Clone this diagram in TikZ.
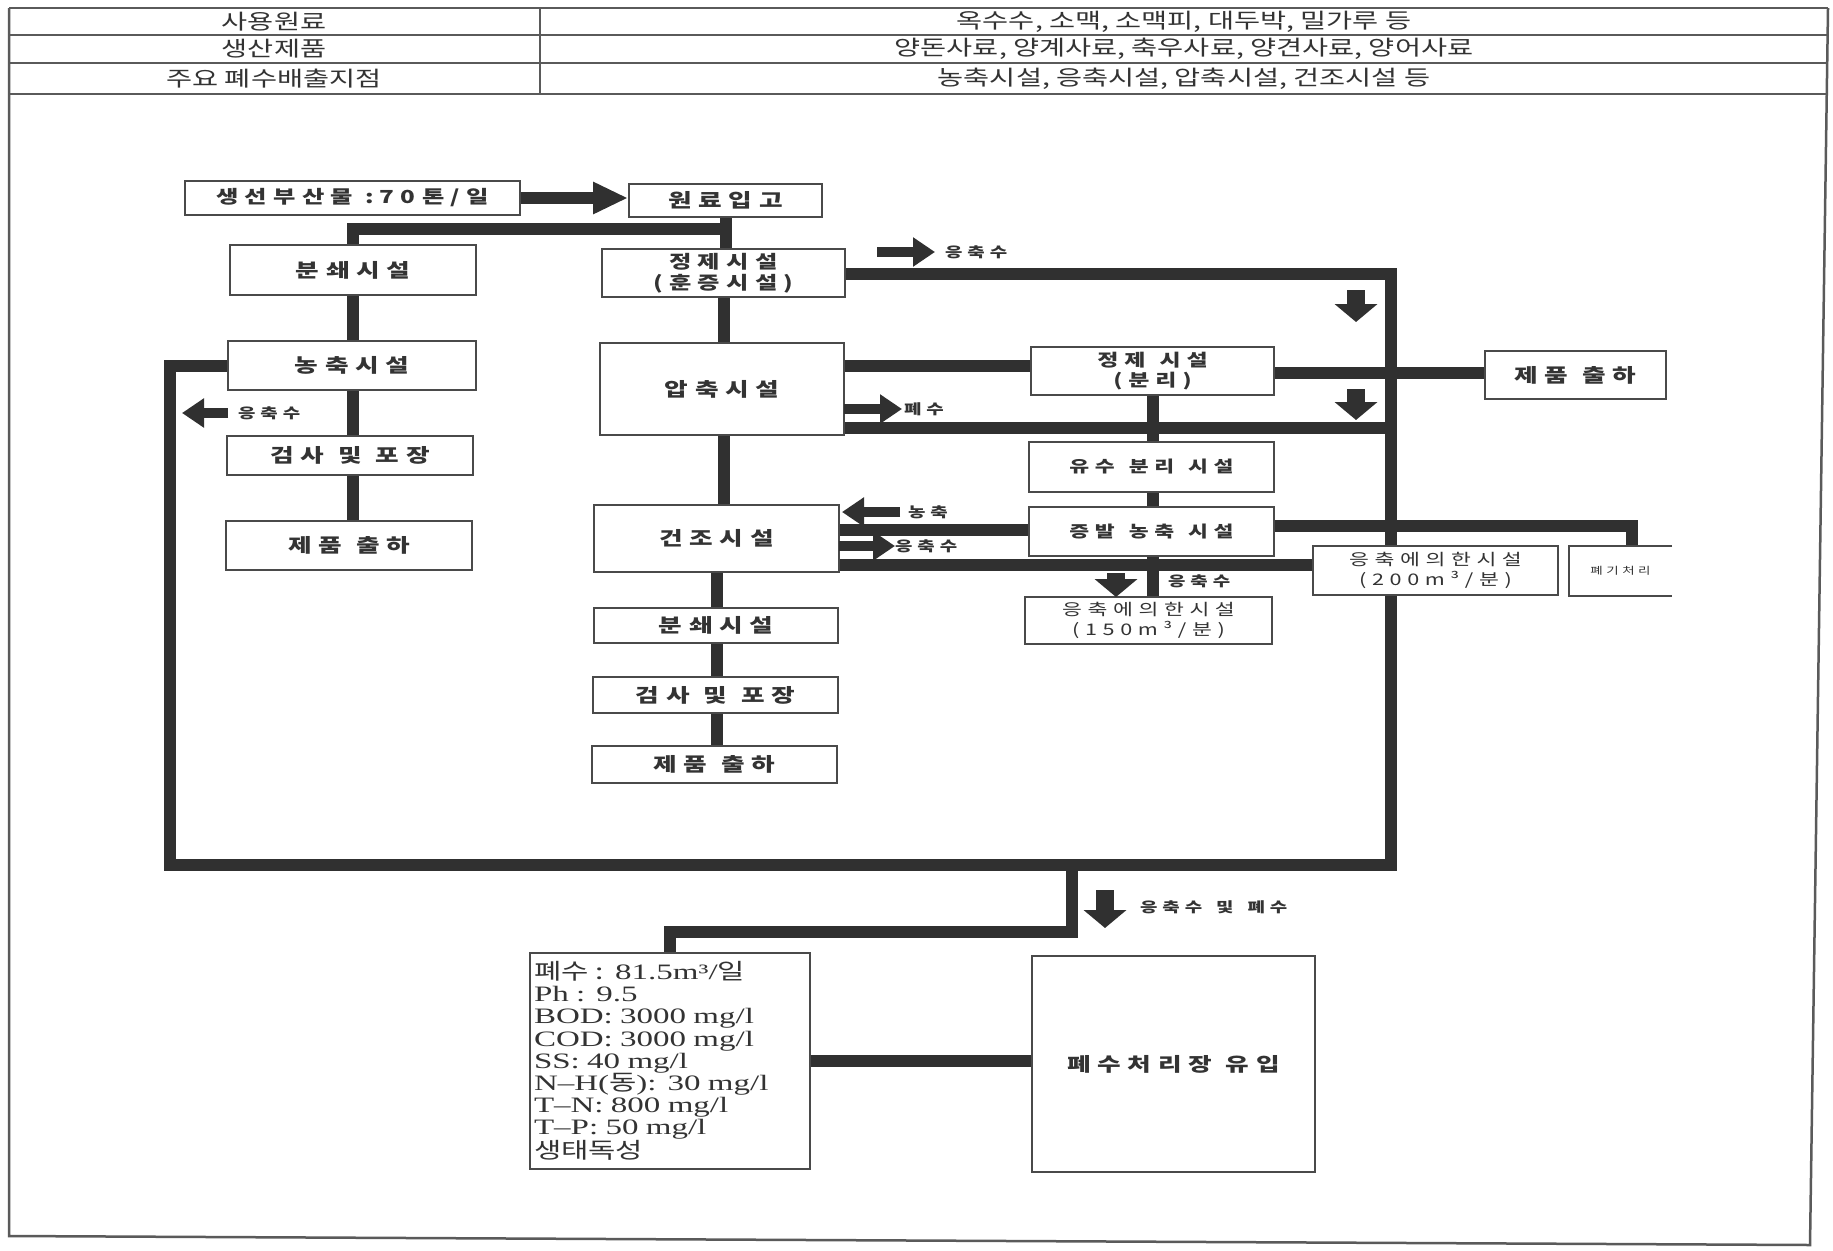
\documentclass[tikz,border=0pt]{standalone}
\usepackage{fontspec}
\setmainfont[FakeStretch=1.35]{Noto Sans CJK KR}
\newfontfamily\krs[FakeStretch=1.35,LetterSpace=35]{Noto Sans CJK KR}
\newfontfamily\lat[FakeStretch=1.5]{Liberation Serif}
\usetikzlibrary{arrows.meta,calc}
\pgfdeclarelayer{bg}
\pgfsetlayers{bg,main}
\definecolor{pipec}{HTML}{303030}
\definecolor{boxc}{HTML}{4A4A4A}
\definecolor{txt}{HTML}{333333}
\definecolor{framec}{HTML}{5A5A5A}
\newcommand{\gap}{\hspace{14pt}}
\begin{document}
\begin{tikzpicture}[x=1pt,y=-1pt,
  box/.style={draw=boxc, line width=2pt, fill=white, inner sep=0pt, text=txt, align=center,
    font=\krs\bfseries\fontsize{19}{23}\selectfont},
  pipe/.style={draw=pipec, line width=12pt},
  stubh/.style={draw=pipec, line width=10pt, -{Triangle[length=22pt,width=28pt]}},
  stubv/.style={draw=pipec, line width=18pt, -{Triangle[length=18pt,width=42pt]}},
  lbl/.style={font=\krs\bfseries\fontsize{14}{16}\selectfont, text=txt, anchor=west, inner sep=0pt},
  tt/.style={font=\fontsize{21}{23}\selectfont, text=txt, inner sep=0pt},
  frame/.style={draw=framec, line width=2.5pt},
]
\useasboundingbox (0,0) rectangle (1833,1250);
\begin{pgfonlayer}{bg}
\fill[white] (0,0) rectangle (1833,1250);
\end{pgfonlayer}

% ---------- table and frame ----------
\draw[frame] (9,8) -- (1828,8);
\draw[frame] (9,35) -- (1828,35);
\draw[frame] (9,63) -- (1828,63);
\draw[frame] (9,94) -- (1828,94);
\draw[frame] (540,8) -- (540,94);
\draw[frame] (9,8) -- (9,1236) -- (1810,1245) -- (1828,8);
\node[tt] (t1a) at (274,21.5) {사용원료};
\node[tt] (t2a) at (274,49) {생산제품};
\node[tt] (t3a) at (274,78.5) {주요 폐수배출지점};
\node[tt] (t1b) at (1184,21.5) {옥수수, 소맥, 소맥피, 대두박, 밀가루 등};
\node[tt] (t2b) at (1184,49) {양돈사료, 양계사료, 축우사료, 양견사료, 양어사료};
\node[tt] (t3b) at (1184,78.5) {농축시설, 응축시설, 압축시설, 건조시설 등};

% ---------- boxes ----------
\node[box,minimum width=335pt,minimum height=34pt,font=\krs\bfseries\fontsize{18}{22}\selectfont] (raw) at (352.5,198) {생선부산물 :70톤/일};
\node[box,minimum width=193pt,minimum height=33pt] (inb) at (725.5,200.5) {원료입고};
\node[box,minimum width=246pt,minimum height=50pt] (crushL) at (353,270) {분쇄시설};
\node[box,minimum width=243pt,minimum height=48pt,font=\krs\bfseries\fontsize{18}{21}\selectfont] (pur1) at (723.5,273) {정제시설\\(훈증시설)};
\node[box,minimum width=248pt,minimum height=49pt] (concL) at (352,365.5) {농축시설};
\node[box,minimum width=244pt,minimum height=92pt] (press) at (722,389) {압축시설};
\node[box,minimum width=243pt,minimum height=48pt,font=\krs\bfseries\fontsize{17}{20}\selectfont] (pur2) at (1152.5,371) {정제\gap 시설\\(분리)};
\node[box,minimum width=181pt,minimum height=48pt] (shipR) at (1575.5,375) {제품\gap 출하};
\node[box,minimum width=246pt,minimum height=39pt] (inspL) at (350,455.5) {검사\gap 및\gap 포장};
\node[box,minimum width=245pt,minimum height=50pt,font=\krs\bfseries\fontsize{16}{20}\selectfont] (oil) at (1151.5,467) {유수\gap 분리\gap 시설};
\node[box,minimum width=245pt,minimum height=67pt] (dry) at (716.5,538.5) {건조시설};
\node[box,minimum width=245pt,minimum height=49pt,font=\krs\bfseries\fontsize{16}{20}\selectfont] (evap) at (1151.5,531.5) {증발\gap 농축\gap 시설};
\node[box,minimum width=246pt,minimum height=49pt] (shipL) at (349,545.5) {제품\gap 출하};
\node[box,minimum width=245pt,minimum height=49pt,font=\krs\fontsize{16}{20}\selectfont] (c200) at (1435.5,570.5) {응축에의한시설\\(200m³/분)};
\node[fill=white,minimum width=103pt,minimum height=50pt,inner sep=0pt,text=txt,font=\krs\fontsize{10}{12}\selectfont] (waste) at (1620.5,571) {폐기처리};
\draw[draw=boxc,line width=2pt] (waste.north east) -- (waste.north west) -- (waste.south west) -- (waste.south east);
\node[box,minimum width=247pt,minimum height=47pt,font=\krs\fontsize{16}{20}\selectfont] (c150) at (1148.5,620.5) {응축에의한시설\\(150m³/분)};
\node[box,minimum width=244pt,minimum height=35pt] (crushM) at (716,625.5) {분쇄시설};
\node[box,minimum width=245pt,minimum height=36pt] (inspM) at (715.5,695) {검사\gap 및\gap 포장};
\node[box,minimum width=245pt,minimum height=37pt] (shipM) at (714.5,764.5) {제품\gap 출하};
\node[box,minimum width=280pt,minimum height=216pt,text width=272pt,align=left,
  font=\fontsize{22}{22.2}\selectfont] (info) at (670,1061)
  {폐수 : {\lat 81.5m³/}일\\
   {\lat Ph : 9.5}\\
   {\lat BOD: 3000 mg/l}\\
   {\lat COD: 3000 mg/l}\\
   {\lat SS: 40 mg/l}\\
   {\lat N–H(}동{\lat ): 30 mg/l}\\
   {\lat T–N: 800 mg/l}\\
   {\lat T–P: 50 mg/l}\\
   생태독성};
\node[box,minimum width=283pt,minimum height=216pt] (plant) at (1173.5,1064) {폐수처리장\gap 유입};

% ---------- helper coordinates ----------
\coordinate (j1) at (725,229);
\coordinate (BL) at (170,865);
\coordinate (BR) at (1391,865);
\coordinate (TR) at (1391,274);
\coordinate (y366) at (0,366);
\coordinate (y373) at (0,373);
\coordinate (y428) at (0,428);
\coordinate (y526) at (0,526);
\coordinate (y530) at (0,530);
\coordinate (y565) at (0,565);
\coordinate (xw) at (1632,0);
\coordinate (jb) at (1072,865);
\coordinate (y932) at (0,932);

% ---------- pipes (behind boxes) ----------
\begin{pgfonlayer}{bg}
\draw[pipe] (inb) -- (inb |- pur1);
\draw[pipe] (inb |- j1) -| (crushL);
\draw[pipe] (crushL) -- (crushL |- shipL);
\draw[pipe] (pur1) -- (pur1 |- dry);
\draw[pipe] (dry) -- (dry |- shipM);
\draw[pipe] (concL) -| (BL) -- (BR) -- (TR) -- (pur1 |- TR);
\draw[pipe] (press |- y366) -- (pur2 |- y366);
\draw[pipe] (pur2 |- y373) -- (shipR |- y373);
\draw[pipe] (press |- y428) -- (TR |- y428);
\draw[pipe] (pur2) -- (pur2 |- c150);
\draw[pipe] (dry |- y530) -- (evap |- y530);
\draw[pipe] (dry |- y565) -- (c200 |- y565);
\draw[pipe] (evap |- y526) -| (xw |- waste);
\draw[pipe] (jb) -- (jb |- y932) -| (info);
\draw[pipe] (info) -- (plant |- info);
\end{pgfonlayer}

% main arrow
\draw[draw=pipec,line width=12pt,-{Triangle[length=35pt,width=30pt]}] (raw.east) -- (raw.east -| inb.west);

% ---------- stubs and labels ----------
\coordinate (s1a) at (877,252); \coordinate (s1b) at (935,252);
\draw[stubh] (s1a) -- (s1b);
\node[lbl] (l1) at (945,252) {응축수};
\coordinate (s2a) at (1356,290); \coordinate (s2b) at (1356,322);
\draw[stubv] (s2a) -- (s2b);
\coordinate (s3a) at (1356,389); \coordinate (s3b) at (1356,420);
\draw[stubv] (s3a) -- (s3b);
\coordinate (s4a) at (844,409); \coordinate (s4b) at (902,409);
\draw[stubh] (s4a) -- (s4b);
\node[lbl] (l4) at (904,409) {폐수};
\coordinate (s5a) at (900,512); \coordinate (s5b) at (842,512);
\draw[stubh] (s5a) -- (s5b);
\node[lbl] (l5) at (908,512) {농축};
\coordinate (s6a) at (839,546); \coordinate (s6b) at (895,546);
\draw[stubh] (s6a) -- (s6b);
\node[lbl] (l6) at (895,546) {응축수};
\coordinate (s7a) at (1116,573); \coordinate (s7b) at (1116,597);
\draw[stubv] (s7a) -- (s7b);
\node[lbl] (l7) at (1168,581) {응축수};
\coordinate (s8a) at (228,413); \coordinate (s8b) at (182,413);
\draw[stubh] (s8a) -- (s8b);
\node[lbl] (l8) at (238,413) {응축수};
\coordinate (s9a) at (1105,890); \coordinate (s9b) at (1105,928);
\draw[stubv] (s9a) -- (s9b);
\node[lbl] (l9) at (1140,907) {응축수\gap 및\gap 폐수};
\end{tikzpicture}
\end{document}
